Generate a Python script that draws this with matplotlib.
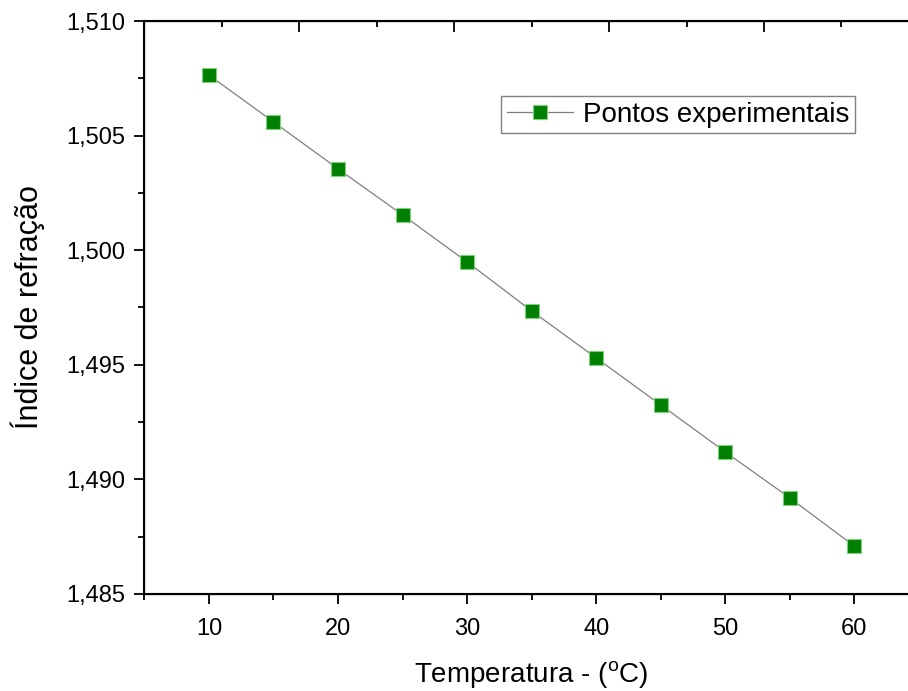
import matplotlib
matplotlib.use('Agg')
import matplotlib.pyplot as plt
from matplotlib.ticker import MultipleLocator, FuncFormatter

# temperatures (C) and measured refractive index
temperatura = [10, 15, 20, 25, 30, 35, 40, 45, 50, 55, 60]
indice = [1.50764, 1.50560, 1.50355, 1.50154, 1.49949, 1.49735,
          1.49530, 1.49325, 1.49120, 1.48919, 1.48709]

plt.rcParams['font.family'] = ['Liberation Sans', 'DejaVu Sans']
plt.rcParams['mathtext.fontset'] = 'custom'
plt.rcParams['mathtext.rm'] = 'Liberation Sans'

fig = plt.figure(figsize=(9.08, 6.91), dpi=100)
# the right edge of the frame runs slightly past the picture, as in the original
ax = fig.add_axes([0.159, 0.1404, 0.853, 0.8292])

ax.plot(temperatura, indice, '-', color='#7f7f7f', lw=0.9,
        marker='s', markersize=9.5, markerfacecolor='#008000',
        markeredgecolor='#7fcf7f', markeredgewidth=0.8,
        label='Pontos experimentais')

ax.set_xlim(5, 65)
ax.set_ylim(1.485, 1.510)
ax.xaxis.set_major_locator(MultipleLocator(10))
ax.xaxis.set_minor_locator(MultipleLocator(5))
ax.yaxis.set_major_locator(MultipleLocator(0.005))
ax.yaxis.set_minor_locator(MultipleLocator(0.0025))
ax.yaxis.set_major_formatter(FuncFormatter(lambda v, p: f'{v:.3f}'.replace('.', ',')))

ax.tick_params(which='major', direction='out', length=7, width=1.3, labelsize=17, pad=7)
ax.tick_params(which='minor', direction='out', length=4, width=1.3)
ax.tick_params(axis='x', which='major', pad=10)
for s in ax.spines.values():
    s.set_linewidth(1.5)

ax.set_xlabel(r'Temperatura - ($^{\mathrm{o}}$C)', fontsize=20, labelpad=14)
ax.set_ylabel('Índice de refração', fontsize=22, labelpad=15)

# top axis: Origin draws its own inward ticks there
top = ax.twiny()
top.set_xlim(0, 5)
top.xaxis.set_major_locator(MultipleLocator(1))
top.xaxis.set_minor_locator(MultipleLocator(0.5))
top.tick_params(which='major', direction='in', length=8, width=1.3, labeltop=False)
top.tick_params(which='minor', direction='in', length=4, width=1.3)

right = ax.twinx()
right.set_ylim(1.485, 1.510)
right.yaxis.set_major_locator(MultipleLocator(0.005))
right.yaxis.set_minor_locator(MultipleLocator(0.0025))
right.tick_params(which='major', direction='in', length=8, width=1.3, labelright=False)
right.tick_params(which='minor', direction='in', length=4, width=1.3)

leg = ax.legend(loc='upper left', bbox_to_anchor=(501 / 908, 1 - 96 / 691),
                bbox_transform=fig.transFigure, fontsize=20, fancybox=False,
                framealpha=1, edgecolor='#808080', handlelength=2.4,
                borderpad=0.2, handletextpad=0.35, borderaxespad=0)
leg.get_frame().set_linewidth(1.0)

fig.savefig('out.png', dpi=100)
